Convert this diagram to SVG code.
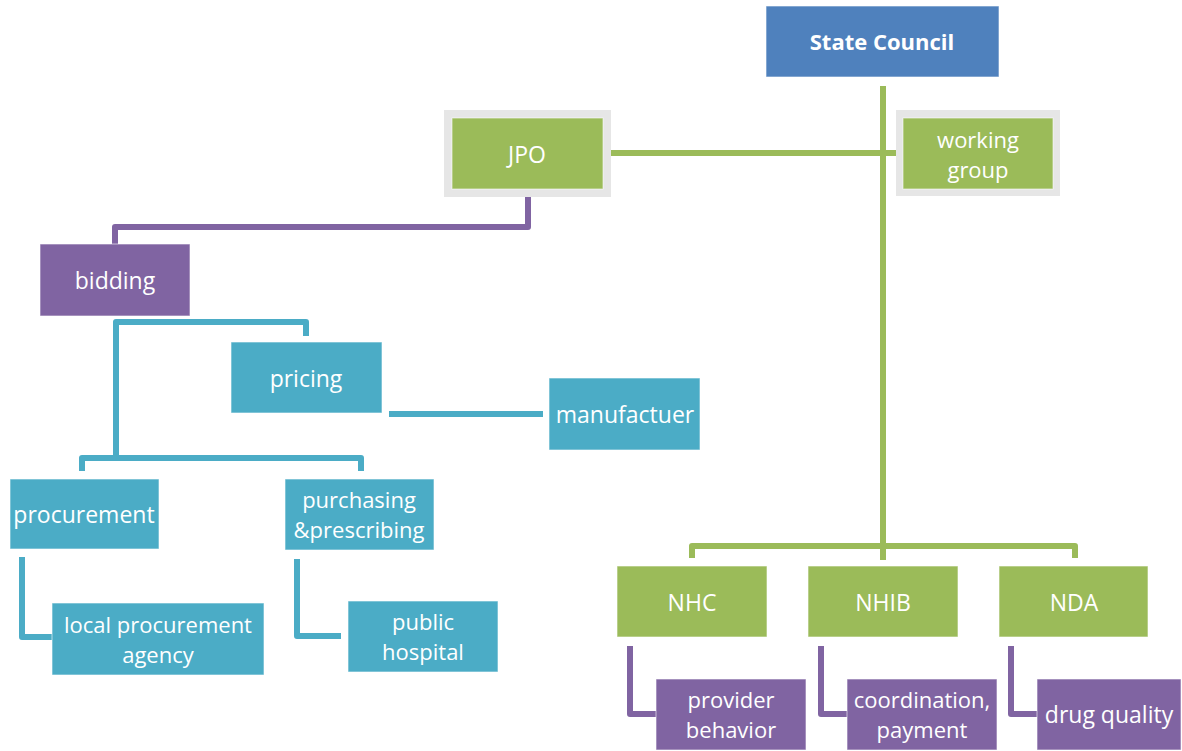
<svg xmlns="http://www.w3.org/2000/svg" width="1182" height="751" viewBox="0 0 1182 751">
<style>
.box{stroke:#ffffff;stroke-opacity:0.6;stroke-width:1}
.blue{fill:#4F81BD}
.green{fill:#9BBB59}
.purple{fill:#8064A2}
.teal{fill:#4BACC6}
.frame{fill:#E6E6E6}
.t{font-family:"Open Sans","Liberation Sans",sans-serif;font-size:23px;fill:#ffffff;text-anchor:middle;dominant-baseline:central}
.s{font-size:22px}
.b{font-weight:bold;font-size:22px}
.c{fill:none;stroke-width:6;stroke-linejoin:round}
.cg{stroke:#9BBB59}
.cp{stroke:#8064A2}
.ct{stroke:#4BACC6}
</style>
<rect width="1182" height="751" fill="#ffffff"/>
<g id="connectors">
  <path class="c cg" d="M883 86 V560"/>
  <path class="c cg" d="M611 153 H896"/>
  <path class="c cg" d="M692 558 V546 H1075 V558"/>
  <path class="c cp" d="M528 197 V227 H115 V244"/>
  <path class="c ct" d="M116 458 V322 H306 V336"/>
  <path class="c ct" d="M389 414 H543"/>
  <path class="c ct" d="M82 471 V458 H361 V471"/>
  <path class="c ct" d="M22 557 V637 H52"/>
  <path class="c ct" d="M297 559 V636 H341"/>
  <path class="c cp" d="M630 646 V714 H656"/>
  <path class="c cp" d="M821 646 V714 H847"/>
  <path class="c cp" d="M1011 646 V714 H1037"/>
</g>
<g id="state-council">
  <rect class="box blue" x="766" y="6" width="233" height="71"/>
  <text class="t b" x="882" y="41">State Council</text>
</g>
<g id="jpo">
  <rect class="frame" x="444" y="110" width="167" height="87"/>
  <rect class="box green" x="452" y="118" width="151" height="71"/>
  <text class="t" x="527" y="154">JPO</text>
</g>
<g id="working-group">
  <rect class="frame" x="896" y="110" width="164" height="86"/>
  <rect class="box green" x="903" y="118" width="150" height="71"/>
  <text class="t s" x="978" y="139">working</text>
  <text class="t s" x="978" y="169">group</text>
</g>
<g id="bidding">
  <rect class="box purple" x="40" y="244" width="150" height="72"/>
  <text class="t" x="115" y="280">bidding</text>
</g>
<g id="pricing">
  <rect class="box teal" x="231" y="342" width="151" height="71"/>
  <text class="t" x="306" y="378">pricing</text>
</g>
<g id="manufactuer">
  <rect class="box teal" x="549" y="378" width="151" height="72"/>
  <text class="t" x="625" y="414">manufactuer</text>
</g>
<g id="procurement">
  <rect class="box teal" x="10" y="479" width="149" height="70"/>
  <text class="t" x="84" y="514">procurement</text>
</g>
<g id="purchasing">
  <rect class="box teal" x="285" y="479" width="149" height="71"/>
  <text class="t s" x="359" y="499">purchasing</text>
  <text class="t s" x="359" y="529">&amp;prescribing</text>
</g>
<g id="local-procurement-agency">
  <rect class="box teal" x="52" y="603" width="212" height="72"/>
  <text class="t s" x="158" y="624">local procurement</text>
  <text class="t s" x="158" y="654">agency</text>
</g>
<g id="public-hospital">
  <rect class="box teal" x="348" y="601" width="150" height="71"/>
  <text class="t s" x="423" y="621">public</text>
  <text class="t s" x="423" y="651">hospital</text>
</g>
<g id="nhc">
  <rect class="box green" x="617" y="566" width="150" height="71"/>
  <text class="t" x="692" y="602">NHC</text>
</g>
<g id="nhib">
  <rect class="box green" x="808" y="566" width="150" height="71"/>
  <text class="t" x="883" y="602">NHIB</text>
</g>
<g id="nda">
  <rect class="box green" x="999" y="566" width="149" height="71"/>
  <text class="t" x="1074" y="602">NDA</text>
</g>
<g id="provider-behavior">
  <rect class="box purple" x="656" y="679" width="150" height="71"/>
  <text class="t s" x="731" y="699">provider</text>
  <text class="t s" x="731" y="729">behavior</text>
</g>
<g id="coordination-payment">
  <rect class="box purple" x="847" y="679" width="150" height="71"/>
  <text class="t s" x="922" y="699">coordination,</text>
  <text class="t s" x="922" y="729">payment</text>
</g>
<g id="drug-quality">
  <rect class="box purple" x="1037" y="679" width="144" height="71"/>
  <text class="t" x="1109" y="714">drug quality</text>
</g>
</svg>
